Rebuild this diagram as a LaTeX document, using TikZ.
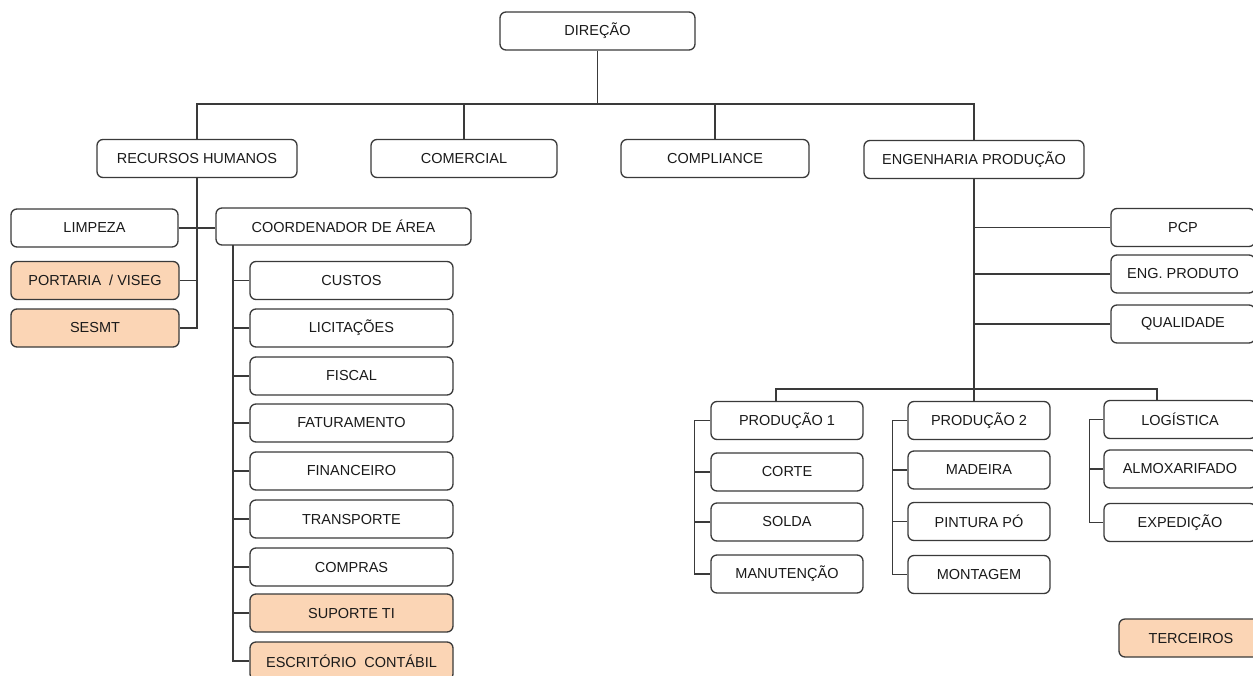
\documentclass[tikz,border=0pt]{standalone}
\usepackage{fontspec}
\setmainfont{Liberation Sans}
\definecolor{boxline}{HTML}{3A3A3A}
\definecolor{peach}{HTML}{FBD5B5}
\definecolor{txt}{HTML}{1A1A1A}
\tikzset{
  org/.style={draw=boxline,line width=1.3pt,rounded corners=6pt,fill=white,
    minimum height=38pt,inner sep=0pt,text=txt,font=\fontsize{14.5}{17}\selectfont},
  orgpeach/.style={org,fill=peach},
  link/.style={draw=boxline,line width=1.3pt}
}
\begin{document}
\begin{tikzpicture}[x=1pt,y=-1pt]
\useasboundingbox (0,0) rectangle (1253,675);
% top
\node[org,minimum width=195pt] (dir) at (597.5,31) {DIREÇÃO};
\node[org,minimum width=200pt] (rh) at (197,158.5) {RECURSOS HUMANOS};
\node[org,minimum width=186pt] (com) at (464,158.5) {COMERCIAL};
\node[org,minimum width=188pt] (compl) at (715,158.5) {COMPLIANCE};
\node[org,minimum width=220pt] (eng) at (974,159.5) {ENGENHARIA PRODUÇÃO};
\coordinate (bus) at (597.5,104);
% recursos humanos
\node[org,minimum width=167pt] (limp) at (94.5,228) {LIMPEZA};
\node[orgpeach,minimum width=168pt] (port) at (95,280.5) {PORTARIA \ / VISEG};
\node[orgpeach,minimum width=168pt] (sesmt) at (95,328) {SESMT};
\node[org,minimum width=255pt,minimum height=37pt] (coord) at (343.5,226.5) {COORDENADOR DE ÁREA};
% coordenador
\node[org,minimum width=203pt] (custos) at (351.5,280.5) {CUSTOS};
\node[org,minimum width=203pt] (licit) at (351.5,328) {LICITAÇÕES};
\node[org,minimum width=203pt] (fiscal) at (351.5,376) {FISCAL};
\node[org,minimum width=203pt] (fat) at (351.5,423) {FATURAMENTO};
\node[org,minimum width=203pt] (fin) at (351.5,471) {FINANCEIRO};
\node[org,minimum width=203pt] (transp) at (351.5,519) {TRANSPORTE};
\node[org,minimum width=203pt] (compras) at (351.5,567) {COMPRAS};
\node[orgpeach,minimum width=203pt] (suporte) at (351.5,613) {SUPORTE TI};
\node[orgpeach,minimum width=203pt] (escrit) at (351.5,661) {ESCRITÓRIO \ CONTÁBIL};
\coordinate (ctrunk) at (233,245);
% engenharia
\node[org,minimum width=144pt] (pcp) at (1183,227.5) {PCP};
\node[org,minimum width=144pt] (engprod) at (1183,274) {ENG. PRODUTO};
\node[org,minimum width=144pt] (qual) at (1183,324) {QUALIDADE};
\coordinate (pbus) at (974,389);
\node[org,minimum width=152pt] (prod1) at (787,420.5) {PRODUÇÃO 1};
\node[org,minimum width=152pt] (corte) at (787,472) {CORTE};
\node[org,minimum width=152pt] (solda) at (787,522) {SOLDA};
\node[org,minimum width=152pt] (manut) at (787,574) {MANUTENÇÃO};
\node[org,minimum width=142pt] (prod2) at (979,420.5) {PRODUÇÃO 2};
\node[org,minimum width=142pt] (madeira) at (979,470) {MADEIRA};
\node[org,minimum width=142pt] (pintura) at (979,521.5) {PINTURA PÓ};
\node[org,minimum width=142pt] (montagem) at (979,574.5) {MONTAGEM};
\node[org,minimum width=152pt] (logist) at (1180,419.5) {LOGÍSTICA};
\node[org,minimum width=152pt] (almox) at (1180,469) {ALMOXARIFADO};
\node[org,minimum width=152pt] (exped) at (1180,522.5) {EXPEDIÇÃO};
\node[orgpeach,minimum width=144pt] (terc) at (1191,638) {TERCEIROS};
% ligacoes
\draw[link] (dir) -- (bus);
\draw[link] (rh.north) |- (eng.north |- bus) -- (eng.north);
\draw[link] (com.north) -- (com.north |- bus);
\draw[link] (compl.north) -- (compl.north |- bus);
\draw[link] (rh.south) -- (sesmt.east -| rh.south) -- (sesmt.east);
\draw[link] (limp.east) -- (limp.east -| coord.west);
\draw[link] (port.east) -- (port.east -| rh.south);
\draw[link] (ctrunk) |- (escrit.west);
\draw[link] (custos.west) -- (custos.west -| ctrunk);
\draw[link] (licit.west) -- (licit.west -| ctrunk);
\draw[link] (fiscal.west) -- (fiscal.west -| ctrunk);
\draw[link] (fat.west) -- (fat.west -| ctrunk);
\draw[link] (fin.west) -- (fin.west -| ctrunk);
\draw[link] (transp.west) -- (transp.west -| ctrunk);
\draw[link] (compras.west) -- (compras.west -| ctrunk);
\draw[link] (suporte.west) -- (suporte.west -| ctrunk);
\draw[link] (eng.south) -- (pbus);
\draw[link] (pcp.west) -- (pcp.west -| pbus);
\draw[link] (engprod.west) -- (engprod.west -| pbus);
\draw[link] (qual.west) -- (qual.west -| pbus);
\draw[link] (prod1.north -| 776,0) |- (pbus) -| (logist.north -| 1157,0);
\draw[link] (prod2.north -| pbus) -- (pbus);
\draw[link] (prod1.west) -- ++(-16,0) |- (manut.west);
\draw[link] (corte.west) -- ++(-16,0);
\draw[link] (solda.west) -- ++(-16,0);
\draw[link] (prod2.west) -- ++(-15,0) |- (montagem.west);
\draw[link] (madeira.west) -- ++(-15,0);
\draw[link] (pintura.west) -- ++(-15,0);
\draw[link] (logist.west) -- ++(-14,0) |- (exped.west);
\draw[link] (almox.west) -- ++(-14,0);
\end{tikzpicture}
\end{document}
